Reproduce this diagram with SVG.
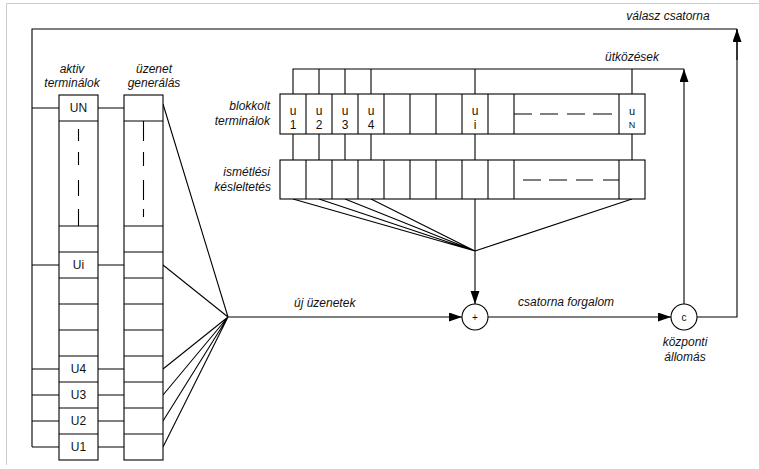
<svg xmlns="http://www.w3.org/2000/svg" width="759" height="469" viewBox="0 0 759 469">
<defs>
<marker id="arr" markerUnits="userSpaceOnUse" markerWidth="14" markerHeight="10" refX="13" refY="4.5" orient="auto"><path d="M0,0 L13,4.5 L0,9 z" fill="#000"/></marker>
<style>
.ln{stroke:#000;stroke-width:1.1;fill:none}
.bx{stroke:#000;stroke-width:1.1;fill:#fff}
.t{font-family:"Liberation Sans",Arial,sans-serif;font-size:12px;font-style:italic;fill:#111}
.b{font-family:"Liberation Sans",Arial,sans-serif;font-size:12px;fill:#111;text-anchor:middle}
.s{font-family:"Liberation Sans",Arial,sans-serif;font-size:12px;fill:#111;text-anchor:middle}
.d{stroke:#000;stroke-width:1.1;fill:none}
</style>
</defs>
<rect width="759" height="469" fill="#fff"/>
<path d="M6.5,465 V3.5 H759" stroke="#ccc" stroke-width="1" fill="none"/>

<g id="connectors">
<path class="ln" d="M32,447 V29 H737"/>
<path class="ln" d="M32,108 H59 M32,265 H59 M32,369 H59 M32,395 H59 M32,421 H59 M32,447 H59"/>
<path class="ln" d="M98,108 H124 M98,265 H124 M98,369 H124 M98,395 H124 M98,421 H124 M98,447 H124"/>
<path class="ln" d="M163,104 L228,317 M163,265 L228,317 M163,369 L228,317 M163,395 L228,317 M163,421 L228,317 M163,447 L228,317"/>
<line class="ln" x1="228" y1="317" x2="462" y2="317" marker-end="url(#arr)"/>
<path class="ln" d="M293,94 V69 H684"/>
<path class="ln" d="M319,69 V94 M345,69 V94 M371,69 V94 M475,69 V94 M632,69 V94"/>
<path class="ln" d="M293,134 V160 M319,134 V160 M345,134 V160 M371,134 V160 M475,134 V160 M632,134 V160"/>
<path class="ln" d="M293,199 L475,251 M319,199 L475,251 M345,199 L475,251 M371,199 L475,251 M632,199 L475,251"/>
<line class="ln" x1="475" y1="199" x2="475" y2="304" marker-end="url(#arr)"/>
<line class="ln" x1="488" y1="317" x2="671" y2="317" marker-end="url(#arr)"/>
<line class="ln" x1="684" y1="304" x2="684" y2="69" marker-end="url(#arr)"/>
<path class="ln" d="M697,317 H737 V29"/>
<line class="ln" x1="737" y1="60" x2="737" y2="29" marker-end="url(#arr)"/>
</g>

<g id="active-terminals">
<rect class="bx" x="59" y="95" width="39" height="365"/>
<path class="ln" d="M59,121 H98 M59,226 H98 M59,252 H98 M59,278 H98 M59,304 H98 M59,330 H98 M59,356 H98 M59,382 H98 M59,408 H98 M59,434 H98"/>
<path class="d" d="M78.5,129 V141 M78.5,152 V165 M78.5,180 V196 M78.5,209 V226"/>
<text class="b" x="78.5" y="112">UN</text>
<text class="b" x="78.5" y="269">Ui</text>
<text class="b" x="78.5" y="373">U4</text>
<text class="b" x="78.5" y="399">U3</text>
<text class="b" x="78.5" y="425">U2</text>
<text class="b" x="78.5" y="451">U1</text>
</g>

<g id="message-generation">
<rect class="bx" x="124" y="95" width="39" height="365"/>
<path class="ln" d="M124,121 H163 M124,226 H163 M124,252 H163 M124,278 H163 M124,304 H163 M124,330 H163 M124,356 H163 M124,382 H163 M124,408 H163 M124,434 H163"/>
<path class="d" d="M143.5,121 V141 M143.5,152 V166 M143.5,180 V200 M143.5,209 V217"/>
</g>

<g id="blocked-terminals">
<rect class="bx" x="280" y="94" width="365" height="40"/>
<path class="ln" d="M306,94 V134 M332,94 V134 M358,94 V134 M384,94 V134 M410,94 V134 M436,94 V134 M462,94 V134 M488,94 V134 M514,94 V134 M619,94 V134"/>
<path class="d" d="M514,114 H532 M540,114 H558 M567,114 H585 M593,114 H612"/>
<text class="s" x="293" y="115">u</text><text class="s" x="293" y="129">1</text>
<text class="s" x="319" y="115">u</text><text class="s" x="319" y="129">2</text>
<text class="s" x="345" y="115">u</text><text class="s" x="345" y="129">3</text>
<text class="s" x="371" y="115">u</text><text class="s" x="371" y="129">4</text>
<text class="s" x="475" y="115">u</text><text class="s" x="475" y="129">i</text>
<text class="s" x="632" y="115" style="font-size:11px">u</text><text class="s" x="632" y="128" style="font-size:9px">N</text>
</g>

<g id="retransmission-delay">
<rect class="bx" x="280" y="160" width="365" height="39"/>
<path class="ln" d="M306,160 V199 M332,160 V199 M358,160 V199 M384,160 V199 M410,160 V199 M436,160 V199 M462,160 V199 M488,160 V199 M514,160 V199 M619,160 V199"/>
<path class="d" d="M523,180 H541 M549,180 H567 M576,180 H593 M603,180 H619"/>
</g>

<g id="sum-node">
<circle class="bx" cx="475" cy="317" r="13"/>
<text class="s" x="475" y="321" style="font-size:10px">+</text>
</g>

<g id="central-station">
<circle class="bx" cx="684" cy="317" r="13"/>
<text class="s" x="684" y="321" style="font-size:10px">c</text>
<text class="t" x="685" y="346" text-anchor="middle">központi</text>
<text class="t" x="685" y="361" text-anchor="middle">állomás</text>
</g>

<g id="labels">
<text class="t" x="668" y="20" text-anchor="middle">válasz csatorna</text>
<text class="t" x="632" y="61" text-anchor="middle">ütközések</text>
<text class="t" x="72" y="73" text-anchor="middle">aktiv</text>
<text class="t" x="72" y="87" text-anchor="middle">terminálok</text>
<text class="t" x="154" y="73" text-anchor="middle">üzenet</text>
<text class="t" x="154" y="87" text-anchor="middle">generálás</text>
<text class="t" x="270" y="110" text-anchor="end">blokkolt</text>
<text class="t" x="270" y="125" text-anchor="end">terminálok</text>
<text class="t" x="270" y="176" text-anchor="end">ismétlési</text>
<text class="t" x="271" y="191" text-anchor="end">késleltetés</text>
<text class="t" x="294" y="307">új üzenetek</text>
<text class="t" x="518" y="306">csatorna forgalom</text>
</g>
</svg>
